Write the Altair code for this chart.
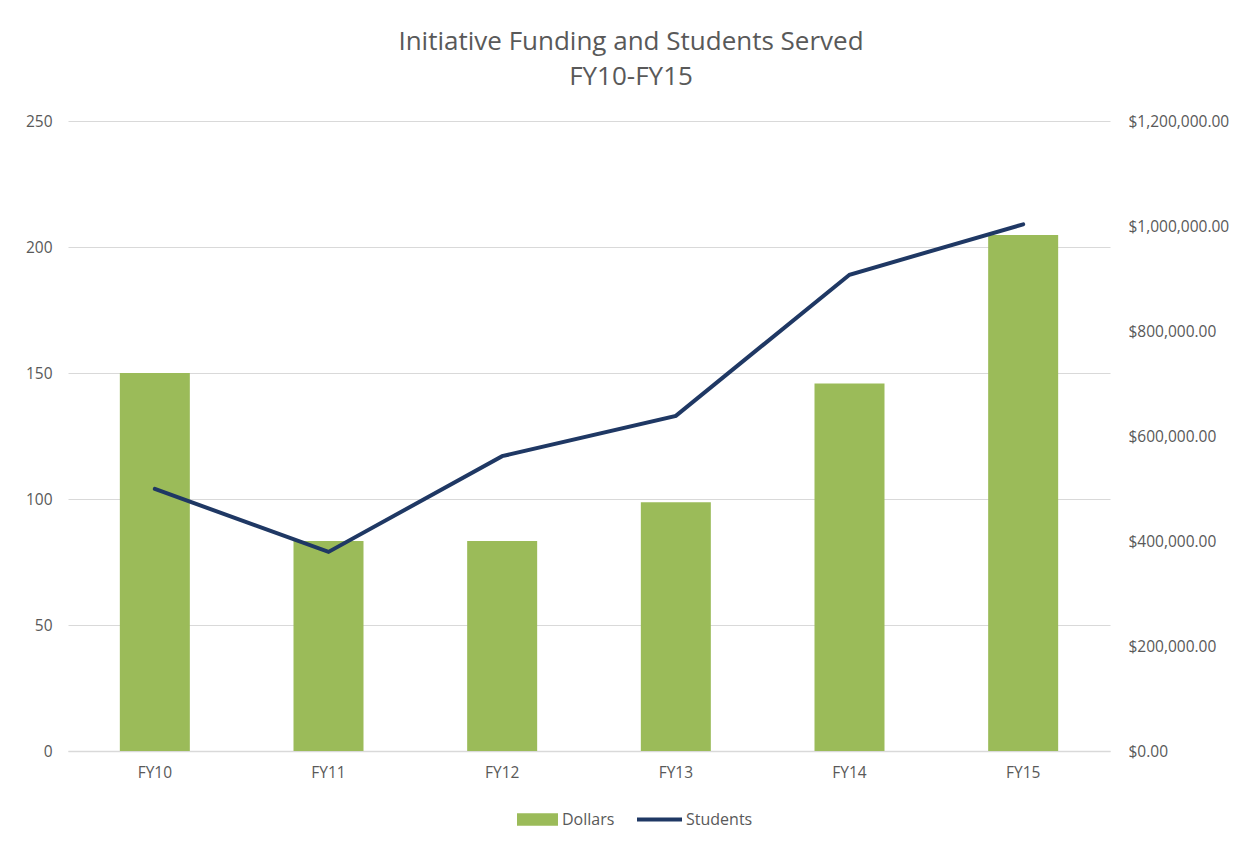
import altair as alt
import pandas as pd

years = ["FY10", "FY11", "FY12", "FY13", "FY14", "FY15"]
dollars = [720000, 400000, 400000, 474000, 700000, 983000]
students = [104, 79, 117, 133, 189, 209]

df = pd.DataFrame({"year": years, "Dollars": dollars, "Students": students,
                   "s1": ["Dollars"] * 6, "s2": ["Students"] * 6})

FONT = "Open Sans"
LABEL = "#595959"
GRID = "#d9d9d9"

x = alt.X("year:N", sort=years, title=None,
          scale=alt.Scale(paddingInner=0.6, paddingOuter=0.3),
          axis=alt.Axis(labelAngle=0, labelFont=FONT, labelFontSize=15.5, labelColor=LABEL,
                        ticks=False, domainColor=GRID, domainWidth=1.5, labelPadding=14, grid=False))

bars = alt.Chart(df).mark_bar(size=70).encode(
    x=x,
    y=alt.Y("Dollars:Q", title=None,
            scale=alt.Scale(domain=[0, 1200000], nice=False),
            axis=alt.Axis(orient="right", values=[0, 200000, 400000, 600000, 800000, 1000000, 1200000],
                          format="$,.2f", labelFont=FONT, labelFontSize=15.5, labelColor=LABEL,
                          ticks=False, domain=False, grid=False, labelPadding=18)),
    fill=alt.Fill("s1:N", title=None,
                  scale=alt.Scale(domain=["Dollars"], range=["#9bbb59"]),
                  legend=alt.Legend(orient="none", legendX=449, legendY=678, symbolType="M-1,-0.3H1V0.3H-1Z",
                                    symbolSize=1680, symbolStrokeWidth=0, labelFont=FONT, labelFontSize=16,
                                    labelColor=LABEL, padding=0, labelOffset=4)),
)

line = alt.Chart(df).mark_line(strokeWidth=4, strokeCap="round").encode(
    x=x,
    y=alt.Y("Students:Q", title=None,
            scale=alt.Scale(domain=[0, 250], nice=False),
            axis=alt.Axis(orient="left", values=[0, 50, 100, 150, 200, 250],
                          labelFont=FONT, labelFontSize=15.5, labelColor=LABEL,
                          ticks=False, domain=False, grid=True, gridColor=GRID, gridWidth=1.2,
                          labelPadding=16)),
    stroke=alt.Stroke("s2:N", title=None,
                      scale=alt.Scale(domain=["Students"], range=["#1f3864"]),
                      legend=alt.Legend(orient="none", legendX=567, legendY=674, symbolType="M-1,0H1",
                                        symbolSize=2025, symbolStrokeWidth=4, labelFont=FONT,
                                        labelFontSize=16, labelColor=LABEL, padding=0, labelOffset=2)),
)

chart = alt.layer(bars, line).resolve_scale(y="independent").properties(
    width=1042, height=630,
    title=alt.TitleParams(["Initiative Funding and Students Served", "FY10-FY15"],
                          font=FONT, fontSize=26, fontWeight="normal", color=LABEL,
                          lineHeight=35, anchor="middle", dx=42, offset=24),
    autosize=alt.AutoSizeParams(type="none"),
    padding={"left": 60, "top": 113, "right": 126, "bottom": 85},
).configure_view(stroke=None)

chart.save("out.html", embed_options={"renderer": "svg", "actions": False})
